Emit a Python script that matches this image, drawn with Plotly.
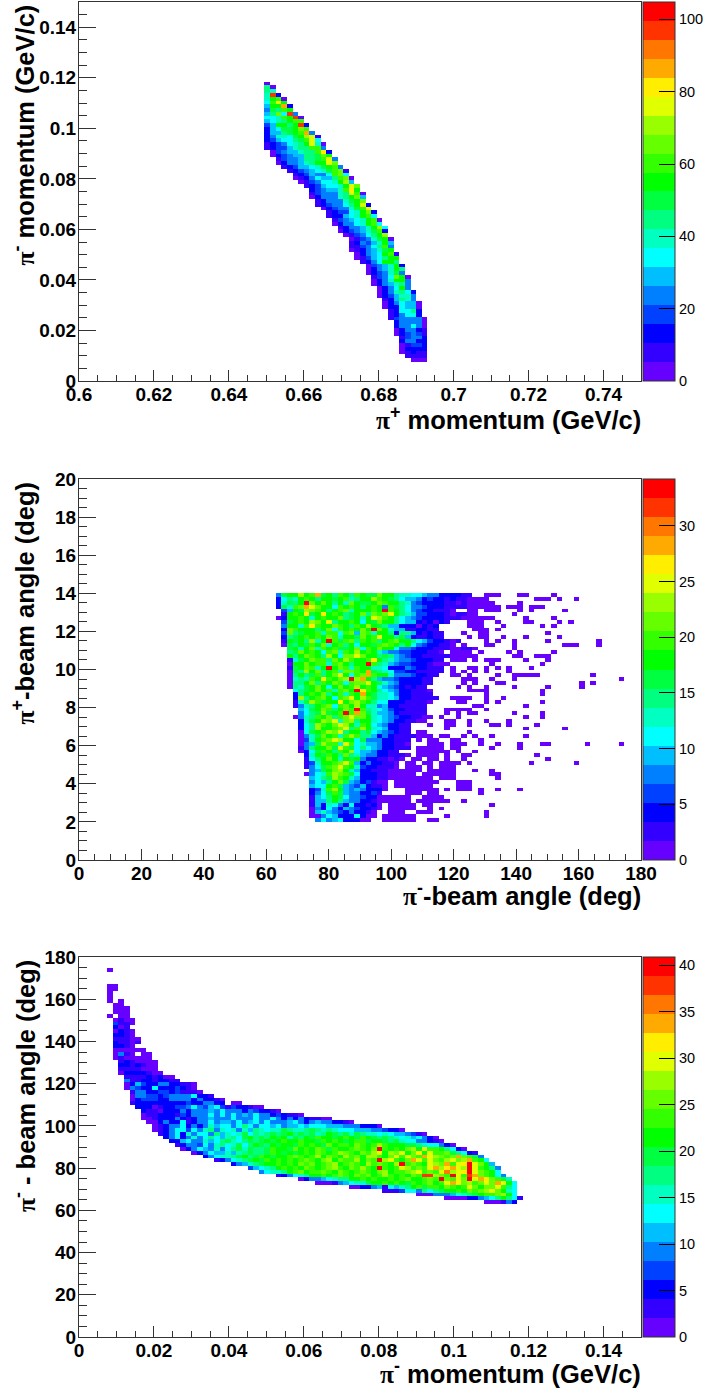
import plotly.graph_objects as go

W, H = 706, 1392
PALETTE = ["#6600ff","#3300ff","#0000ff","#0040ff","#0080ff","#00bfff","#00ffff","#00ffc0","#00ff80","#00ff40",
           "#00ff00","#33ff00","#66ff00","#99ff00","#e0ff00","#ffee00","#ffaa00","#ff7700","#ff3300","#ff0000"]
CODES = "123456789abcdefghijk"

# Panel 1: rows from the top (bin 78) down; first filled column, then colour level per bin
P1_TOP = 78
P1_STARTS = [33,33,33,33,33,33,33,33,33,33,33,33,33,33,33,33,33,33,34,34,35,35,36,37,38,38,39,40,41,41,41,42,42,43,44,44,45,45,46,46,47,48,48,48,48,49,49,50,51,51,51,52,52,52,53,53,53,54,54,54,55,55,55,56,56,56,56,57,57,57,57,57,58,59]
P1_LEVELS = ["1","91","98","8j3","8bc1","7cfb","6bbh3","5a9cb","69d7j5","778cbj1","6789bcc","46bb9bj3","367aabdc","3669abch5","35887abef2","346779acf7","2345789bf81","23446899cc5","14566899cg3","13456699adb","2455699acf5","1355689bbfd","2346678abc5","2345678acd2","2346557cd7","12357669cd1","1245778be6","2346778bfd","345668cgb","2455589fc1","1355589bd6","235558abd","2345579bf3","134558acf","234478bd3","233678bc7","245678bc1","135578bc7","235568be7","134568ac3","124579be","12458ab1","235468b6","224579c5","123568ab","13567bc2","124679bb","2357bb9","14568b3","13568b9","13458a5","2457db1","1358bb5","1356895","1357b5","1358973","1346885","236985","1357661","1337661","237793","235773","2455551","355551","355751","135532","134542","24553","35533","12443","13333","12322","2222","111"]

# Panel 2: rows from the top (bin 69) down
P2_TOP = 69
P2_STARTS = [35,35,35,35,36,36,35,36,36,36,36,36,36,36,37,37,37,37,37,37,37,37,37,37,37,38,38,38,38,38,39,39,38,39,39,39,39,39,39,39,39,39,40,40,40,40,41,40,41,41,41,41,41,41,41,41,41,41,41,42]
P2_LEVELS = ["5abbebchab9cb9cbaadbb98877655333322","3798bcb9bbabc89bbecba9766534332322","38a9bkdbdb9b8dbaabdcbb985433332212","3a8cdhfdbb7cbcb9bcb5ca975543332222","46baedcb9bcd8bbbcbkcb9754332221","2bcbgabgbcb9abd9dcdfb986443332122","13bbcb8bcbbd9ab8bfecb9765433332221","4abcbedbf9bbcb7badbb9766323132","5bb8cgcbbdcb9cbeba9663331323","3dcbbb9bd7cbcbdbkdb866223322","4d9abbc8cc7cd6dc8bb9399632322","39abcbcbdc8bbadbcgbb9a6322322","2bab9e8bkcacd9cbc9bcdbb976433212","1a9bacbd8bc9b7bbacdcb9b7543322","ab8bd8cbcaabd7cbdbb75543332221122","9adbcb7cd8cbebcb865544333221","b9bdcb9eb7ddfdbb9a96543322222","28abdcc9dbecbbcgb98655433322","1bbdbcc8cdb9bbkc98654433321","2abdc8bkbdc8cbb8873335433222","1a9ebd9bc8ddcbha987443322222","19b9ac9bdfb7cdhcbb855543322","1898cbgcbdekehb96554333322","199bd9cbdc7cddfba865333322","198abdb7bdbcebcb765432322","79abdbc8cdbkgcb9765332221","39bcbd9bc8cbhba8875332222","3e9bcdb7cdfbeca88763322222","28aecabbgbdecb97733322221","2589bcd7cdbeb88563322222","67abdc9bdckc98764332222","579aeabckchda8665322222","1589cbd9cdfddb876543322","38abedf8de9bb87653322","379ecbdfeb8cb7653322","379ebbcdf9ceb8763322","17abcedf9bb9a7654322","158adbc8cec9963532222","148bcdfebb7a55533222","156aecc8fc7866533221","259bbdafca7976533222","137acb9cbe76653322","38bacb9d98655332221","279bdb8bab53322121","248bbcdfc63533221","257acdfcb84332221","56abdeb86332221","1578cedca7333221","679aecb86333221","5769bda6534211","677bca65463221","348ceb65653331","357aca6553342","2679ba75543311","2669b96553321","2638753733231","1537536543321","168654353321","115763337311","5756733311"]
# Single-count bins to the right of the dense part, row by row
P2_SPARSE = [[68,72,73,74,78,79,84],[67,68,69,70,71,72,81,82,83,85,88],[67,68,69,70,71,72,73,78],[67,68,69,70,71,72,73,74,76,77,78,80,81,82],[69,70,72,73,74,78,80,86],[69,70,77],[69,70,71,72,73,79,84],[69,70,71,74,79,80,85,87],[69,70,71,75,82,84],[70,71,72,74],[68,71,72,83],[69,71,72,75,79,85],[66,67,72,74,77,83,92],[66,68,72,73,77,86,87,88,92],[67,68,69,70,77],[66,67,68,69,71,76,78,84],[66,67,68,69,70,77,78,81,82,83],[66,67,68,70,72,73,74,79,83],[64,65,73,82],[66,69,70,72,74,76,80],[66,68,70,72,76],[66,67,69,74,77,78,79,80,81,91],[68,69,70,73,77,96],[68,70,74,75,89,91],[67,69,72,77,83,89],[69,70,71,72,82],[72,82],[66,67,68,69,72,75],[67,68,72,74,82],[70,71,79],[65,66,67,68,69,72],[65,67,69,70,77,82],[61,62,64,67,79,82],[60,61,65,66,69,72,76],[62,65,66,69,73,74,76,81],[65,79,86],[60,61,69],[60,61,62,64,65,68,70,73,79],[60,62,63,66,67,71],[62,63,64,66,67,68,71,74,78,82,83,90,96],[60,61,62,63,64,66,67,73,78],[60,61,62,63,64,65,67,70],[60,61,62,63,65,68,69,81],[59,60,62,63,65,68,83],[58,59,61,62,64,65,66,67,69,80,88],[58,59,60,62,64,65,66],[56,57,58,59,60,62,63,64,65,66,70,73],[55,56,57,58,59,61,62,63,64,65,66,73,74],[55,56,57,58,59,60,61,62,64,65,66,74],[56,57,58,59,60,61,62,63,67,68,69],[56,57,58,59,60,61,62,67,68,69],[58,59,60,61,62,63,65,67,68,69,71,74,78],[58,59,60,62,63,71],[55,56,57,58,61,62,63,64],[54,55,56,57,58,60,61,62,63,64,65,68],[55,56,57,58,59,61,62,73],[55,56,57,58,59,62,64],[55,56,57,60,61,62,72],[54,55,56,57,58,59,65,72],[54,55,56,57,58,59,62,63]]

# Panel 3: rows from the top (bin 96) down; empty string = empty row
P3_TOP = 96
P3_STARTS = [5,5,5,5,5,5,5,5,5,6,6,6,5,6,6,6,6,6,6,6,6,6,6,6,7,7,7,7,8,8,8,8,9,9,9,9,10,11,11,11,12,13,13,14,15,16,17,18,20,22,24,27,30,32,35,39,42,48,54,60,65,72]
P3_LEVELS = ["1","","","","11","11","1","1","1.1","11","111","111","1.11","1211","4221","312","1321","3321","22211","32212","3321","111111","1521.11","1211111","2321111","3323211","2222111","13333211","222232311","5223323322","1364335533221","1543373334321","2553344342221","155443455557332","13444335555353321","23333333334335533.11","33312334457546742433211","3221333535556575553543321","12233324355575757565755343221","1123335323556555755575575353532211","1135337235575665756757555675356553321","12355735358677579757767566767776665553331","12357747589587858698788a9889a9898777666554331","235738577596878a7989a9ab9a9a89ba9a8a988787665421","35735857976897ab9a9bab8a9bacbbabcbacba9a987867531","3367558679a879a9ababcbbcbbacbcbabccabba9a87755321","23554758978a79ba9babbacbcbadbccbdcbcecbbbaa9877531","1357658579a8a99acbbadbcbdcacbbcdcbdkcbcbdebfccb9731","1357668689a99acbababcbdcbcedcbdcefbedfbdgbfccda9732","357889ab9acbabbcdcbcebdcbecdbeecbdfcfdchfedcdhdca5","235789abacbcbcbcdcbdebdccebdckefcbdhfcfdcefdehcb7","35689abbcbcbdcdbcdebcdcbecdcbekcdcbfedhcfgkfdb6","46789bcbcbdcbcdecbdcecbkcbcfecdcfheghfekfcb95","57889bcdbccdcbdcbcdcbdebccdefcdcfiefgkfdcb7","235789bbcbcdcbdcdbcecbcbdcjjedckfcjhdcb75","135567899bbcbcbbcbcdbbcdckdcfdkfhgdca8","111256788abbcbcbacbcdbcfhgdecdfdhfb7","11335627689bcaccbdcbcfdbddfc97","2224775979abbcbdcdefdb87","1115556789abccdeb7","1111335679b972","111253"]

XMIN = [0.6, 0.0, 0.0]
XMAX = [0.75, 180.0, 0.15]
YMIN = [0.0, 0.0, 0.0]
YMAX = [0.15, 20.0, 180.0]
ZMAX = [104.8, 34.2, 40.9]
X_DTICK = [0.02, 20, 0.02]
X_MINOR = [0.005, 5, 0.005]
Y_DTICK = [0.02, 2, 20]
Y_MINOR = [0.005, 0.5, 5]
Z_DTICK = [20, 5, 5]
TOPS = [2, 479, 957]
BOTTOMS = [381, 860, 1337]
PLOT_LEFT, PLOT_RIGHT = 79, 641
N = 100

PI = '<span style="font-family:\'Liberation Serif\'">π</span>'
X_TITLES = [PI + '<sup>+</sup> momentum (GeV/c)', PI + '<sup>-</sup>-beam angle (deg)', PI + '<sup>-</sup> momentum (GeV/c)']
Y_TITLES = [PI + '<sup>-</sup> momentum (GeV/c)', PI + '<sup>+</sup>-beam angle (deg)', PI + '<sup>-</sup> - beam angle (deg)']
X_TITLE_Y = [418, 894, 1372]


def grid(top, starts, rows, zmax, sparse=None):
    step = zmax / 20
    z = [[None] * N for _ in range(N)]
    for i, (s, row) in enumerate(zip(starts, rows)):
        for j, ch in enumerate(row):
            if ch != ".":
                z[top - i][s + j] = (CODES.index(ch) + 0.5) * step
        if sparse:
            for c in sparse[i]:
                if z[top - i][c] is None:
                    z[top - i][c] = 0.5 * step
    return z


Z = [grid(P1_TOP, P1_STARTS, P1_LEVELS, ZMAX[0]),
     grid(P2_TOP, P2_STARTS, P2_LEVELS, ZMAX[1], P2_SPARSE),
     grid(P3_TOP, P3_STARTS, P3_LEVELS, ZMAX[2])]

colorscale = []
for i, c in enumerate(PALETTE):
    colorscale += [[i / 20, c], [(i + 1) / 20, c]]

fig = go.Figure()
anns = []
BOLD = dict(family="Liberation Sans", size=19, color="black", weight=700)
LINE = "#333333"
for k in range(3):
    sfx = "" if k == 0 else str(k + 1)
    dx = (XMAX[k] - XMIN[k]) / N
    dy = (YMAX[k] - YMIN[k]) / N
    mid = 1 - (TOPS[k] + BOTTOMS[k]) / 2 / H
    fig.add_trace(go.Heatmap(
        z=Z[k], x0=XMIN[k] + dx / 2, dx=dx, y0=YMIN[k] + dy / 2, dy=dy,
        xaxis="x" + sfx, yaxis="y" + sfx, zmin=0, zmax=ZMAX[k], colorscale=colorscale,
        hoverongaps=False,
        colorbar=dict(x=643 / W, xanchor="left", xpad=0, ypad=0, y=mid, yanchor="middle",
                      lenmode="pixels", len=BOTTOMS[k] - TOPS[k], thickness=32, thicknessmode="pixels",
                      outlinewidth=1, outlinecolor=LINE, ticks="inside", ticklen=16, tickcolor="black",
                      tickwidth=1, dtick=Z_DTICK[k], tick0=0,
                      tickfont=dict(family="Liberation Sans", size=14.5, color="black"))))
    xa = dict(domain=[PLOT_LEFT / W, PLOT_RIGHT / W], range=[XMIN[k], XMAX[k]], anchor="y" + sfx,
              showgrid=False, zeroline=False, showline=True, linecolor=LINE, linewidth=1, mirror=True,
              ticks="inside", ticklen=11, tickcolor=LINE, tickwidth=1, dtick=X_DTICK[k], tick0=0,
              tickfont=BOLD, ticklabelstandoff=-4,
              minor=dict(dtick=X_MINOR[k], tick0=0, ticks="inside", ticklen=6, tickcolor=LINE, tickwidth=1, showgrid=False))
    ya = dict(domain=[1 - BOTTOMS[k] / H, 1 - TOPS[k] / H], range=[YMIN[k], YMAX[k]], anchor="x" + sfx,
              showgrid=False, zeroline=False, showline=True, linecolor=LINE, linewidth=1, mirror=True,
              ticks="inside", ticklen=17, tickcolor=LINE, tickwidth=1, dtick=Y_DTICK[k], tick0=0,
              tickfont=BOLD, ticklabelstandoff=-2,
              minor=dict(dtick=Y_MINOR[k], tick0=0, ticks="inside", ticklen=8, tickcolor=LINE, tickwidth=1, showgrid=False))
    fig.update_layout({"xaxis" + sfx: xa, "yaxis" + sfx: ya})
    anns.append(dict(text=X_TITLES[k], xref="paper", yref="paper", x=PLOT_RIGHT / W, y=1 - X_TITLE_Y[k] / H,
                     xanchor="right", yanchor="middle", showarrow=False, xshift=2,
                     font=dict(family="Liberation Sans", size=25.5, color="black", weight=700)))
    anns.append(dict(text=Y_TITLES[k], xref="paper", yref="paper", x=24 / W, y=1 - (TOPS[k] + 1) / H,
                     xanchor="center", yanchor="top", textangle=-90, showarrow=False,
                     font=dict(family="Liberation Sans", size=25.5, color="black", weight=700)))

fig.update_layout(width=W, height=H, margin=dict(l=0, r=0, t=0, b=0, autoexpand=False), paper_bgcolor="white", plot_bgcolor="white",
                  annotations=anns, showlegend=False)
fig.write_html("out.html", config={"displayModeBar": False},
               post_script="document.body.style.margin='0';document.documentElement.style.overflow='hidden';")
